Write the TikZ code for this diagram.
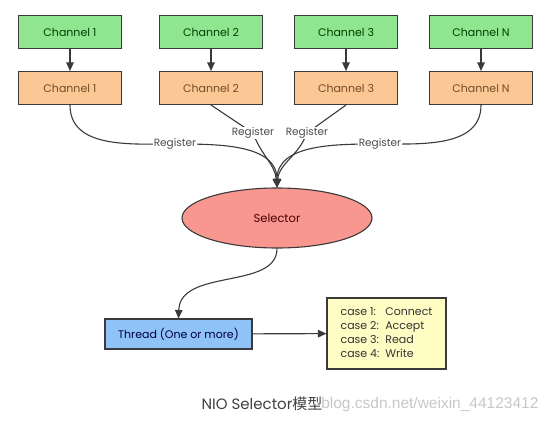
\documentclass[tikz,border=0pt]{standalone}
\usepackage{fontspec}
\setmainfont{Poppins}
\newfontfamily\cjk{Noto Sans CJK SC}
\newfontfamily\markfont{Liberation Sans}
\usetikzlibrary{arrows.meta}
\usetikzlibrary{shapes.geometric}
\definecolor{lineColor}{HTML}{3A3A3A}
\definecolor{chanGreen}{HTML}{90E590}
\definecolor{chanOrange}{HTML}{FBC795}
\definecolor{selRed}{HTML}{F8978F}
\definecolor{threadBlue}{HTML}{8FC2F7}
\definecolor{caseYellow}{HTML}{FFFDC4}

\begin{document}
\begin{tikzpicture}[x=1pt, y=-1pt,
		gbox/.style={draw=lineColor, fill=chanGreen, line width=1.1pt, minimum width=103pt, minimum height=33pt, font=\fontsize{11}{13}\selectfont, text=green!25!black},
		obox/.style={gbox, fill=chanOrange, text=brown!60!black},
		wire/.style={draw=lineColor, line width=1.1pt},
		tip/.style={wire, -{Triangle[length=8.5pt, width=7.5pt]}},
		reg/.style={fill=white, inner sep=1pt, font=\fontsize{10.5}{12}\selectfont, text=black!70}
		]
		\useasboundingbox (0,0) rectangle (554,423);

		% channels
		\node[gbox] (g1) at (70,32) {Channel 1};
		\node[gbox] (g2) at (211,32) {Channel 2};
		\node[gbox] (g3) at (346,32) {Channel 3};
		\node[gbox] (g4) at (481,32) {Channel N};

		\node[obox] (o1) at (70,88) {Channel 1};
		\node[obox] (o2) at (211,88) {Channel 2};
		\node[obox] (o3) at (346,88) {Channel 3};
		\node[obox] (o4) at (481,88) {Channel N};

		\foreach \i in {1,...,4}
			\draw[tip] (g\i) -- (o\i);

		% selector
		\node[ellipse, draw=lineColor, fill=selRed, line width=1.1pt, minimum width=190pt, minimum height=60pt, font=\fontsize{11.5}{13}\selectfont, text=red!30!black] (sel) at (277,218) {Selector};

		\draw[tip] (o1.south) to[out=-90, in=180] (175,144) node[reg] {Register} to[out=0, in=90] (sel.north);
		\draw[tip] (o2.south) -- (253,133) node[reg] {Register} to[out=-70, in=95] (sel.north);
		\draw[tip] (o3.south) -- (307,133) node[reg] {Register} to[out=-110, in=85] (sel.north);
		\draw[tip] (o4.south) to[out=-90, in=0] (380,144) node[reg] {Register} to[out=180, in=90] (sel.north);

		% thread and cases
		\node[draw=lineColor, fill=threadBlue, line width=1.1pt, minimum width=147pt, minimum height=30pt, font=\fontsize{11}{13}\selectfont, text=blue!25!black] (thr) at (178.5,334) {Thread (One or more)};
		\node[draw=lineColor, fill=caseYellow, line width=1.1pt, minimum width=119pt, minimum height=71pt, font=\fontsize{11}{14}\selectfont, text=black!80] (cs) at (386.5,333.5) {%
			\begin{tabular}{@{}l@{\ \ }l@{}}
				case 1: & Connect \\
				case 2: & Accept \\
				case 3: & Read \\
				case 4: & Write
			\end{tabular}};

		\draw[tip] (sel.south) .. controls (277,290) and (180,268) .. (thr.north);
		\draw[tip] (thr) -- (cs);

		% caption
		\node[anchor=east, font=\markfont\fontsize{15.5}{18}\selectfont, text=black!22] (mark) at (542,404) {blog.csdn.net/weixin\_44123412};
		\node[anchor=west, font=\fontsize{15}{18}\selectfont, text=black!75] (cap) at (198,404) {NIO Selector{\cjk 模型}};
	\end{tikzpicture}
\end{document}
